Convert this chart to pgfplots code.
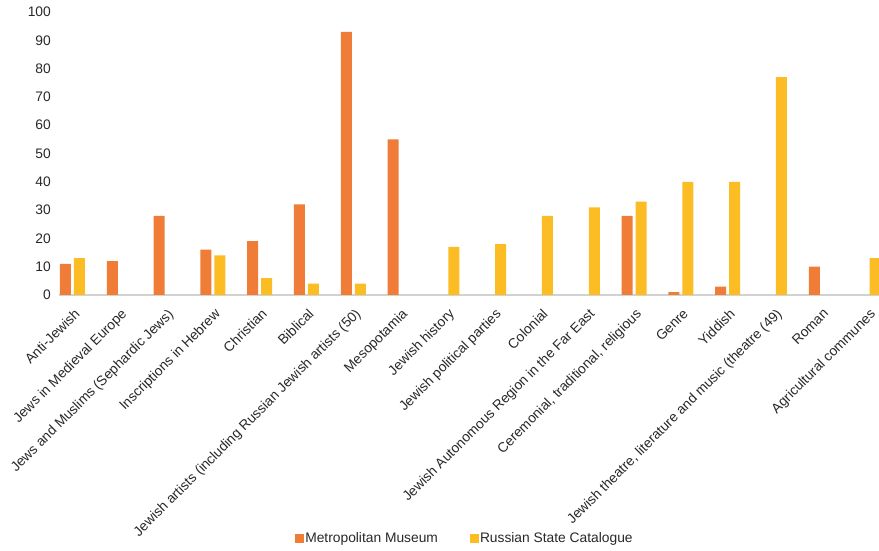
\documentclass[border=0pt]{standalone}
\usepackage{pgfplots}
\pgfplotsset{compat=1.18}
\usepackage{fontspec}
\setmainfont{Liberation Sans}
\definecolor{metOrange}{RGB}{239,125,56}
\definecolor{rusYellow}{RGB}{251,188,36}
\definecolor{txt}{RGB}{40,40,40}
\definecolor{baseln}{RGB}{210,210,210}
\begin{document}
\begin{tikzpicture}
\begin{axis}[
  at={(59pt,256pt)}, anchor=south west,
  x=46.8pt, y=2.83pt,
  xmin=-0.288, xmax=17.233, ymin=0, ymax=100,
  ybar=3pt, bar width=11pt,
  axis x line*=bottom, axis y line*=left,
  x axis line style={draw=baseln, line width=1.5pt, -},
  y axis line style={draw=none},
  major tick length=0pt,
  ytick={0,10,...,100},
  xtick={0,...,17},
  xticklabels={Anti-Jewish,Jews in Medieval Europe,Jews and Muslims (Sephardic Jews),Inscriptions in Hebrew,Christian,Biblical,Jewish artists (including Russian Jewish artists (50),Mesopotamia,Jewish history,Jewish political parties,Colonial,Jewish Autonomous Region in the Far East,{Ceremonial, traditional, religious},Genre,Yiddish,{Jewish theatre, literature and music (theatre (49)},Roman,Agricultural communes},
  xticklabel style={xshift=1pt, yshift=-12.5pt, rotate=45, anchor=north east, inner sep=0pt, font=\fontsize{13.8}{15}\selectfont, text=txt},
  yticklabel style={font=\fontsize{13.8}{15}\selectfont, text=txt, anchor=east, xshift=-8pt, inner sep=0pt},
  /pgf/number format/assume math mode=true,
  legend columns=2,
  legend style={at={(0.4945,-0.859)}, anchor=center, draw=none, fill=none,
    font=\fontsize{13.8}{15}\selectfont, text=txt,
    /tikz/every even column/.style={column sep=30pt},
    nodes={inner sep=1.5pt}},
  legend image code/.code={\fill[#1, draw=none] (0pt,-4.5pt) rectangle (9pt,4.5pt);},
]
\addplot[fill=metOrange, draw=none] coordinates {
 (0,11) (1,12) (2,28) (3,16) (4,19) (5,32) (6,93) (7,55)
 (12,28) (13,1) (14,3) (16,10)};
\addlegendentry{Metropolitan Museum}
\addplot[fill=rusYellow, draw=none] coordinates {
 (0,13) (3,14) (4,6) (5,4) (6,4) (8,17) (9,18) (10,28) (11,31)
 (12,33) (13,40) (14,40) (15,77) (17,13)};
\addlegendentry{Russian State Catalogue}
\end{axis}
\pgfresetboundingbox
\useasboundingbox (0,0) rectangle (879pt,551pt);
\end{tikzpicture}
\end{document}
